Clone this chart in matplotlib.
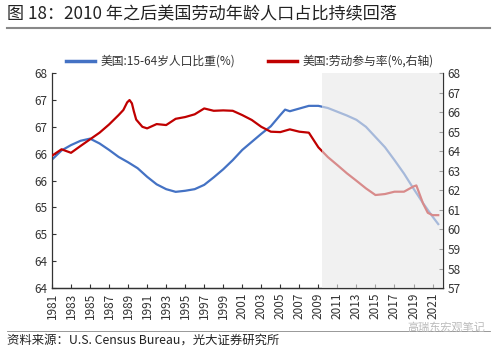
import matplotlib
matplotlib.use("Agg")
import matplotlib.pyplot as plt

plt.rcParams['font.family'] = ['Noto Sans CJK SC', 'DejaVu Sans']

title = "图 18：2010 年之后美国劳动年龄人口占比持续回落"
source = "资料来源：U.S. Census Bureau，光大证券研究所"
label_pop = "美国:15-64岁人口比重(%)"
label_lfpr = "美国:劳动参与率(%,右轴)"

pop_years = [1981, 1982, 1983, 1984, 1985, 1986, 1987, 1988, 1989, 1990,
             1991, 1992, 1993, 1994, 1995, 1996, 1997, 1998, 1999, 2000,
             2001, 2002, 2003, 2004, 2005, 2005.5, 2006, 2007, 2008, 2009,
             2010, 2011, 2012, 2013, 2014, 2015, 2016, 2017, 2018, 2019,
             2020, 2021, 2021.6]
pop_share = [66.39, 66.56, 66.66, 66.74, 66.78, 66.69, 66.57, 66.44, 66.34, 66.23,
             66.07, 65.93, 65.84, 65.79, 65.81, 65.84, 65.92, 66.06, 66.21, 66.38,
             66.57, 66.72, 66.87, 67.01, 67.22, 67.32, 67.29, 67.34, 67.39, 67.39,
             67.35, 67.28, 67.21, 67.13, 67.00, 66.81, 66.62, 66.38, 66.13, 65.85,
             65.58, 65.33, 65.19]

lfpr_years = [1981, 1982, 1983, 1984, 1985, 1986, 1987, 1988, 1988.5, 1988.9,
              1989.15, 1989.4, 1989.6, 1989.85, 1990.5, 1991, 1992, 1993, 1994, 1995,
              1996, 1997, 1998, 1999, 2000, 2001, 2002, 2003, 2004, 2005,
              2006, 2007, 2008, 2009, 2010, 2011, 2012, 2013, 2014, 2015,
              2016, 2017, 2018, 2019, 2019.3, 2020, 2020.5, 2021, 2021.6]
lfpr = [63.77, 64.10, 63.92, 64.27, 64.61, 64.95, 65.37, 65.85, 66.11, 66.50,
        66.62, 66.45, 66.05, 65.62, 65.25, 65.17, 65.39, 65.34, 65.66, 65.75,
        65.89, 66.19, 66.07, 66.09, 66.07, 65.85, 65.60, 65.25, 65.00, 64.98,
        65.12, 65.00, 64.95, 64.20, 63.70, 63.29, 62.87, 62.49, 62.10, 61.76,
        61.81, 61.93, 61.93, 62.20, 62.25, 61.33, 60.85, 60.73, 60.73]

left_ticks = [64, 64.5, 65, 65.5, 66, 66.5, 67, 67.5, 68]
left_labels = ['64', '64', '65', '65', '66', '66', '67', '67', '68']
right_ticks = list(range(57, 69))
x_ticks = list(range(1981, 2022, 2))

fig = plt.figure(figsize=(5, 3.53), dpi=100)
ax = fig.add_axes([0.104, 0.184, 0.782, 0.609])
ax2 = ax.twinx()

ax.plot(pop_years, pop_share, color='#4472c4', lw=1.6, zorder=2)
ax2.plot(lfpr_years, lfpr, color='#c00000', lw=1.6, zorder=2)
ax2.axvspan(2009.4, 2022.1, color='#e9e9e9', alpha=0.6, lw=0, zorder=3)

ax.set_xlim(1981, 2022.1)
ax.set_ylim(64, 68)
ax2.set_ylim(57, 68)
ax.set_yticks(left_ticks)
ax.set_yticklabels(left_labels)
ax2.set_yticks(right_ticks)
ax.set_xticks(x_ticks)
ax.set_xticklabels([str(y) for y in x_ticks], rotation=90)

for a in (ax, ax2):
    a.tick_params(direction='in', labelsize=8.5, colors='#333333', length=3, width=0.8)
    a.spines['top'].set_visible(False)
    for s in ('left', 'right', 'bottom'):
        a.spines[s].set_color('#333333')
        a.spines[s].set_linewidth(0.9)
ax2.spines['left'].set_visible(False)
ax.spines['right'].set_visible(False)

h1 = plt.Line2D([], [], color='#4472c4', lw=2.5)
h2 = plt.Line2D([], [], color='#c00000', lw=2.5)
fig.legend([h1, h2], [label_pop, label_lfpr], loc='center', ncol=2,
           bbox_to_anchor=(0.5, 0.826), frameon=False, fontsize=8.5,
           handlelength=2.4, handletextpad=0.5, columnspacing=2.8,
           labelcolor='#333333')

fig.text(0.014, 0.958, title, fontsize=12.3, color='#222222', va='center', fontweight='medium')
fig.add_artist(plt.Line2D([0.014, 0.98], [0.922, 0.922], color='#888888', lw=1.5))
fig.add_artist(plt.Line2D([0.014, 0.98], [0.063, 0.063], color='#888888', lw=0.6))
fig.text(0.014, 0.035, source, fontsize=8.9, color='#222222', va='center')
fig.text(0.97, 0.073, "高瑞东宏观笔记", fontsize=8, color='#bbbbbb', ha='right', va='center')

fig.savefig("out.png", dpi=100)
